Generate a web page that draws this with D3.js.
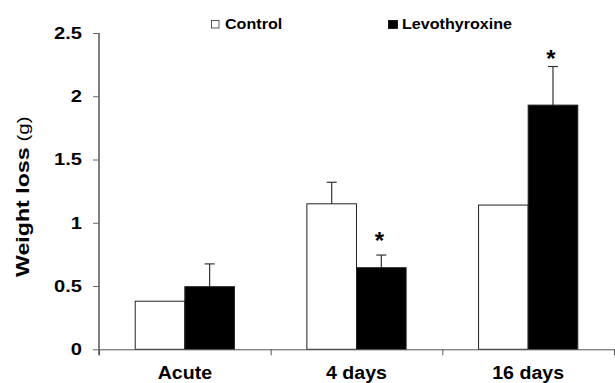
<!DOCTYPE html>
<html>
<head>
<meta charset="utf-8">
<script src="https://cdn.jsdelivr.net/npm/d3@7"></script>
<style>
  body { margin: 0; background: #fff; }
  text { font-family: "Liberation Sans", Arial, sans-serif; fill: #000; }
</style>
</head>
<body>
<script>
(function () {
	"use strict";

	let w = 615;
	let h = 383;

	// data
	let categories = ['Acute', '4 days', '16 days'];
	let series = ['Control', 'Levothyroxine'];
	let control = [0.38, 1.15, 1.14];
	let controlErr = [0, 0.17, 0];
	let levo = [0.495, 0.645, 1.93];
	let levoErr = [0.18, 0.10, 0.305];
	let stars = [null, 0.86, 2.295];   // height of the * mark above Levothyroxine bars
	let yTicks = [0, 0.5, 1, 1.5, 2, 2.5];

	let margin = { top: 33, right: 1, bottom: 33.7, left: 99 };

	let svg = d3.select('body').append('svg').attr('width', w).attr('height', h);

	let x = d3.scaleBand()
		.domain(categories)
		.range([margin.left, w - margin.right])
		.padding(0);

	let x1 = d3.scaleBand()
		.domain(series)
		.range([0, x.bandwidth()])
		.paddingInner(0)
		.paddingOuter(0.73);

	let y = d3.scaleLinear()
		.domain([0, 2.5])
		.range([h - margin.bottom, margin.top]);

	let rows = categories.map(function (c, i) {
		return [
			{ cat: c, s: 'Control', v: control[i], e: controlErr[i], star: null },
			{ cat: c, s: 'Levothyroxine', v: levo[i], e: levoErr[i], star: stars[i] }
		];
	});
	let flat = [].concat.apply([], rows);

	// bars
	svg.append('g').selectAll('rect')
		.data(flat)
		.enter()
		.append('rect')
		.attr('x', (d) => x(d.cat) + x1(d.s))
		.attr('y', (d) => y(d.v))
		.attr('width', x1.bandwidth())
		.attr('height', (d) => y(0) - y(d.v))
		.attr('fill', (d) => d.s == 'Control' ? '#fff' : '#000')
		.attr('stroke', '#222')
		.attr('stroke-width', 1);

	// error bars
	let eb = svg.append('g').attr('stroke', '#333').attr('stroke-width', 1.2);
	flat.forEach(function (d) {
		if (!d.e) return;
		let cx = x(d.cat) + x1(d.s) + x1.bandwidth() / 2;
		eb.append('line')
			.attr('x1', cx).attr('x2', cx)
			.attr('y1', y(d.v)).attr('y2', y(d.v + d.e));
		eb.append('line')
			.attr('x1', cx - 5).attr('x2', cx + 5)
			.attr('y1', y(d.v + d.e)).attr('y2', y(d.v + d.e));
	});

	// stars
	svg.append('g').selectAll('text')
		.data(flat.filter((d) => d.star != null))
		.enter()
		.append('text')
		.attr('x', (d) => x(d.cat) + x1(d.s) + x1.bandwidth() / 2 - 2)
		.attr('y', (d) => y(d.star) + 8.5)
		.attr('text-anchor', 'middle')
		.style('font-size', '24px')
		.style('font-weight', 'bold')
		.text('*');

	// y axis
	let yAxis = svg.append('g')
		.attr('transform', 'translate(' + margin.left + ',0)')
		.call(d3.axisLeft(y).tickValues(yTicks).tickSize(6).tickSizeOuter(0)
			.tickFormat((d) => String(d)));
	yAxis.select('.domain').attr('stroke', '#000').attr('d', 'M0,' + y(2.5) + 'V' + (y(0) + 6));
	yAxis.selectAll('.tick line').attr('stroke', '#666');
	yAxis.selectAll('.tick text')
		.attr('x', -17 / 1.22)
		.attr('transform', 'scale(1.22,1)')
		.style('font-size', '16.5px')
		.style('font-weight', 'bold')
		.style('font-family', '"Liberation Sans", Arial, sans-serif')
		.attr('fill', '#000');

	// x axis (boundary ticks)
	let xb = d3.scaleLinear().domain([0, categories.length]).range([margin.left, w - margin.right]);
	let xAxis = svg.append('g')
		.attr('transform', 'translate(0,' + y(0) + ')')
		.call(d3.axisBottom(xb).tickValues(d3.range(categories.length + 1)).tickSize(6).tickSizeOuter(0).tickFormat(''));
	xAxis.select('.domain').attr('stroke', '#555');
	xAxis.selectAll('.tick line').attr('stroke', '#555');

	svg.append('g').selectAll('text')
		.data(categories)
		.enter()
		.append('text')
		.attr('transform', (d) => 'translate(' + (x(d) + x.bandwidth() / 2) + ',379) scale(1.12,1)')
		.attr('text-anchor', 'middle')
		.style('font-size', '17.5px')
		.style('font-weight', 'bold')
		.text((d) => d);

	// y label
	let yl = svg.append('text')
		.attr('transform', 'translate(28.5,277) rotate(-90) scale(1.22,1)')
		.attr('text-anchor', 'start');
	yl.append('tspan').style('font-size', '19px').style('font-weight', 'bold').text('Weight loss');
	yl.append('tspan').style('font-size', '17px').text(' (g)');

	// legend
	let lx = [211, 388];
	let lg = svg.append('g').selectAll('g')
		.data(series)
		.enter()
		.append('g')
		.attr('transform', (d, i) => 'translate(' + lx[i] + ',20)');
	lg.append('rect')
		.attr('x', 0.5).attr('y', 0.5)
		.attr('width', (d, i) => i ? 9 : 7.5)
		.attr('height', (d, i) => i ? 8 : 7.5)
		.attr('fill', (d, i) => i ? '#000' : '#fff')
		.attr('stroke', (d, i) => i ? '#000' : '#333')
		.attr('stroke-width', 0.8);
	lg.append('text')
		.attr('transform', 'translate(14,8.5) scale(1.15,1)')
		.style('font-size', '14px')
		.style('font-weight', 'bold')
		.text((d) => d);
})();
</script>
</body>
</html>
